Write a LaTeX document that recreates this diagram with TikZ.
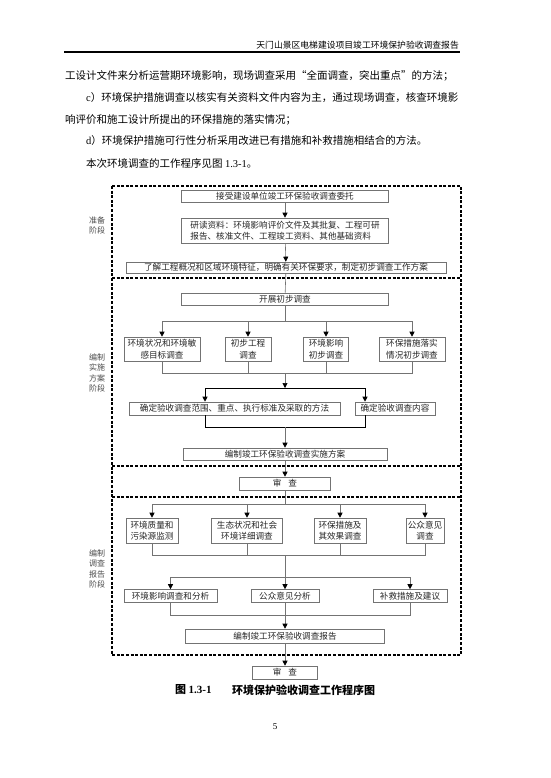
\documentclass[tikz,border=0pt]{standalone}
\usepackage{fontspec}
\setmainfont{Liberation Serif}
\newfontfamily\cjk{Noto Sans CJK SC}
\usetikzlibrary{arrows.meta}
\begin{document}
\begin{tikzpicture}[x=1pt,y=-1pt,
  box/.style={draw=black!55, line width=0.6pt, inner sep=0pt, fill=white,
    font=\cjk\fontsize{8.6}{11.5}\selectfont, text=black!85, align=center},
  conn/.style={draw=black!55, line width=0.6pt},
  arr/.style={conn, -{Triangle[width=5pt,length=5pt,color=black]}},
  joinline/.style={draw=black, line width=1pt},
  tarr/.style={joinline, -{Triangle[width=5pt,length=5pt,color=black]}},
  stage/.style={draw=black, line width=1.3pt, dash pattern=on 3pt off 1.6pt},
  lab/.style={font=\cjk\fontsize{8}{10.6}\selectfont, text=black!70, align=center, inner sep=0pt},
  body/.style={anchor=west, inner sep=0pt, font=\cjk\fontsize{10.5}{12}\selectfont},
  capt/.style={anchor=west, inner sep=0pt, font=\cjk\bfseries\fontsize{11}{13}\selectfont}
]
\useasboundingbox (0,0) rectangle (550,778);
\fill[white] (0,0) rectangle (550,778);

% header
\node[anchor=east, inner sep=0pt, font=\cjk\fontsize{8.8}{10}\selectfont] (head) at (459,45) {天门山景区电梯建设项目竣工环境保护验收调查报告};
\coordinate (hl) at (64,52);
\coordinate (hr) at (460,52);
\draw[line width=1.3pt] (hl) -- (hr);

% body text
\node[body] (t1) at (65,76) {工设计文件来分析运营期环境影响，现场调查采用“全面调查，突出重点”的方法；};
\node[body] (t2) at (86,98) {{\rmfamily c}）环境保护措施调查以核实有关资料文件内容为主，通过现场调查，核查环境影};
\node[body] (t3) at (65,120) {响评价和施工设计所提出的环保措施的落实情况；};
\node[body] (t4) at (86,141) {{\rmfamily d}）环境保护措施可行性分析采用改进已有措施和补救措施相结合的方法。};
\node[body] (t5) at (86,163) {本次环境调查的工作程序见图 {\rmfamily 1.3-1}。};

% stage frames
\draw[stage] (112,186) rectangle (461,655);
\draw[stage] (112,278) -- (461,278);
\draw[stage] (112,466) -- (461,466);
\draw[stage] (112,497) -- (461,497);

% stage labels
\node[lab] (L1) at (97,225.5) {准备\\阶段};
\node[lab] (L2) at (97,373) {编制\\实施\\方案\\阶段};
\node[lab] (L3) at (97,569) {编制\\调查\\报告\\阶段};

% boxes
\node[box, minimum width=207, minimum height=12] (B1) at (285,196) {接受建设单位竣工环保验收调查委托};
\node[box, minimum width=207, minimum height=25, align=left] (B2) at (285,230.5) {研读资料：环境影响评价文件及其批复、工程可研\\报告、核准文件、工程竣工资料、其他基础资料};
\node[box, minimum width=320, minimum height=11] (B3) at (286,267.5) {了解工程概况和区域环境特征，明确有关环保要求，制定初步调查工作方案};
\node[box, minimum width=207, minimum height=12] (B4) at (285,299) {开展初步调查};

\node[box, minimum width=76, minimum height=24] (B5a) at (162,349) {环境状况和环境敏\\感目标调查};
\node[box, minimum width=46, minimum height=24] (B5b) at (248,349) {初步工程\\调查};
\node[box, minimum width=45, minimum height=24] (B5c) at (326,349) {环境影响\\初步调查};
\node[box, minimum width=66, minimum height=24] (B5d) at (412,349) {环保措施落实\\情况初步调查};

\node[box, minimum width=211, minimum height=13] (B6a) at (234.5,408.5) {确定验收调查范围、重点、执行标准及采取的方法};
\node[box, minimum width=80, minimum height=13] (B6b) at (395,408.5) {确定验收调查内容};

\node[box, minimum width=204, minimum height=12] (B7) at (285,454) {编制竣工环保验收调查实施方案};
\node[box, minimum width=91, minimum height=13] (B8) at (285,483.5) {审\hspace{0.8em}查};

\node[box, minimum width=52, minimum height=25] (B9a) at (152,530.5) {环境质量和\\污染源监测};
\node[box, minimum width=71, minimum height=25] (B9b) at (247,530.5) {生态状况和社会\\环境详细调查};
\node[box, minimum width=52, minimum height=25] (B9c) at (340,530.5) {环保措施及\\其效果调查};
\node[box, minimum width=38, minimum height=25] (B9d) at (425,530.5) {公众意见\\调查};

\node[box, minimum width=93, minimum height=13] (B10a) at (170.5,596) {环境影响调查和分析};
\node[box, minimum width=68, minimum height=13] (B10b) at (285,596) {公众意见分析};
\node[box, minimum width=74, minimum height=13] (B10c) at (410,596) {补救措施及建议};

\node[box, minimum width=199, minimum height=14] (B11) at (285,636) {编制竣工环保验收调查报告};
\node[box, minimum width=65, minimum height=13] (B12) at (285,672.5) {审\hspace{0.8em}查};

% coordinates
\coordinate (r1) at (285,321);
\coordinate (j1) at (285,373);
\coordinate (k1) at (285,388);
\coordinate (k1a) at (205,388);
\coordinate (k1b) at (365,388);
\coordinate (j2) at (285,427);
\coordinate (r3) at (285,504);
\coordinate (j3) at (285,555);
\coordinate (r4) at (285,577);
\coordinate (j4) at (285,615);

% connectors: preparation
\draw[arr] (B1) -- (B2);
\draw[arr] (B2) -- (B3);
\draw[conn] (B3) -- (B4);

% initial survey branches
\draw[conn] (B4.south) -- (r1);
\draw[conn] (B5a.north |- r1) -- (B5d.north |- r1);
\draw[arr] (B5a.north |- r1) -- (B5a.north);
\draw[arr] (B5b.north |- r1) -- (B5b.north);
\draw[arr] (B5c.north |- r1) -- (B5c.north);
\draw[arr] (B5d.north |- r1) -- (B5d.north);
\draw[conn] (B5a.south) -- (B5a.south |- j1) -- (B5d.south |- j1) -- (B5d.south);
\draw[conn] (B5b.south) -- (B5b.south |- j1);
\draw[conn] (B5c.south) -- (B5c.south |- j1);
\draw[arr] (j1) -- (k1);
\draw[joinline] (k1a) -- (k1b);
\draw[tarr] (k1a) -- (k1a |- B6a.north);
\draw[tarr] (k1b) -- (k1b |- B6b.north);
\draw[joinline] (k1a |- B6a.south) -- (k1a |- j2) -- (k1b |- j2) -- (k1b |- B6b.south);
\draw[arr] (j2) -- (B7);
\draw[arr] (B7) -- (B8);

% report stage
\draw[conn] (B8.south) -- (r3);
\draw[conn] (B9a.north |- r3) -- (B9d.north |- r3);
\draw[arr] (B9a.north |- r3) -- (B9a.north);
\draw[arr] (B9b.north |- r3) -- (B9b.north);
\draw[arr] (B9c.north |- r3) -- (B9c.north);
\draw[arr] (B9d.north |- r3) -- (B9d.north);
\draw[conn] (B9a.south) -- (B9a.south |- j3) -- (B9d.south |- j3) -- (B9d.south);
\draw[conn] (B9b.south) -- (B9b.south |- j3);
\draw[conn] (B9c.south) -- (B9c.south |- j3);
\draw[conn] (j3) -- (r4);
\draw[conn] (B10a.north |- r4) -- (B10c.north |- r4);
\draw[arr] (B10a.north |- r4) -- (B10a.north);
\draw[arr] (r4) -- (B10b.north);
\draw[arr] (B10c.north |- r4) -- (B10c.north);
\draw[conn] (B10a.south) -- (B10a.south |- j4) -- (B10c.south |- j4) -- (B10c.south);
\draw[conn] (B10b.south) -- (j4);
\draw[arr] (j4) -- (B11);
\draw[arr] (B11) -- (B12);

% caption and page number
\node[capt] (cap1) at (175,690) {图 {\rmfamily\bfseries 1.3-1}};
\node[capt] (cap2) at (232,690) {环境保护验收调查工作程序图};
\node[inner sep=0pt, font=\fontsize{9}{10}\selectfont] (pg) at (275,727) {5};
\end{tikzpicture}
\end{document}
